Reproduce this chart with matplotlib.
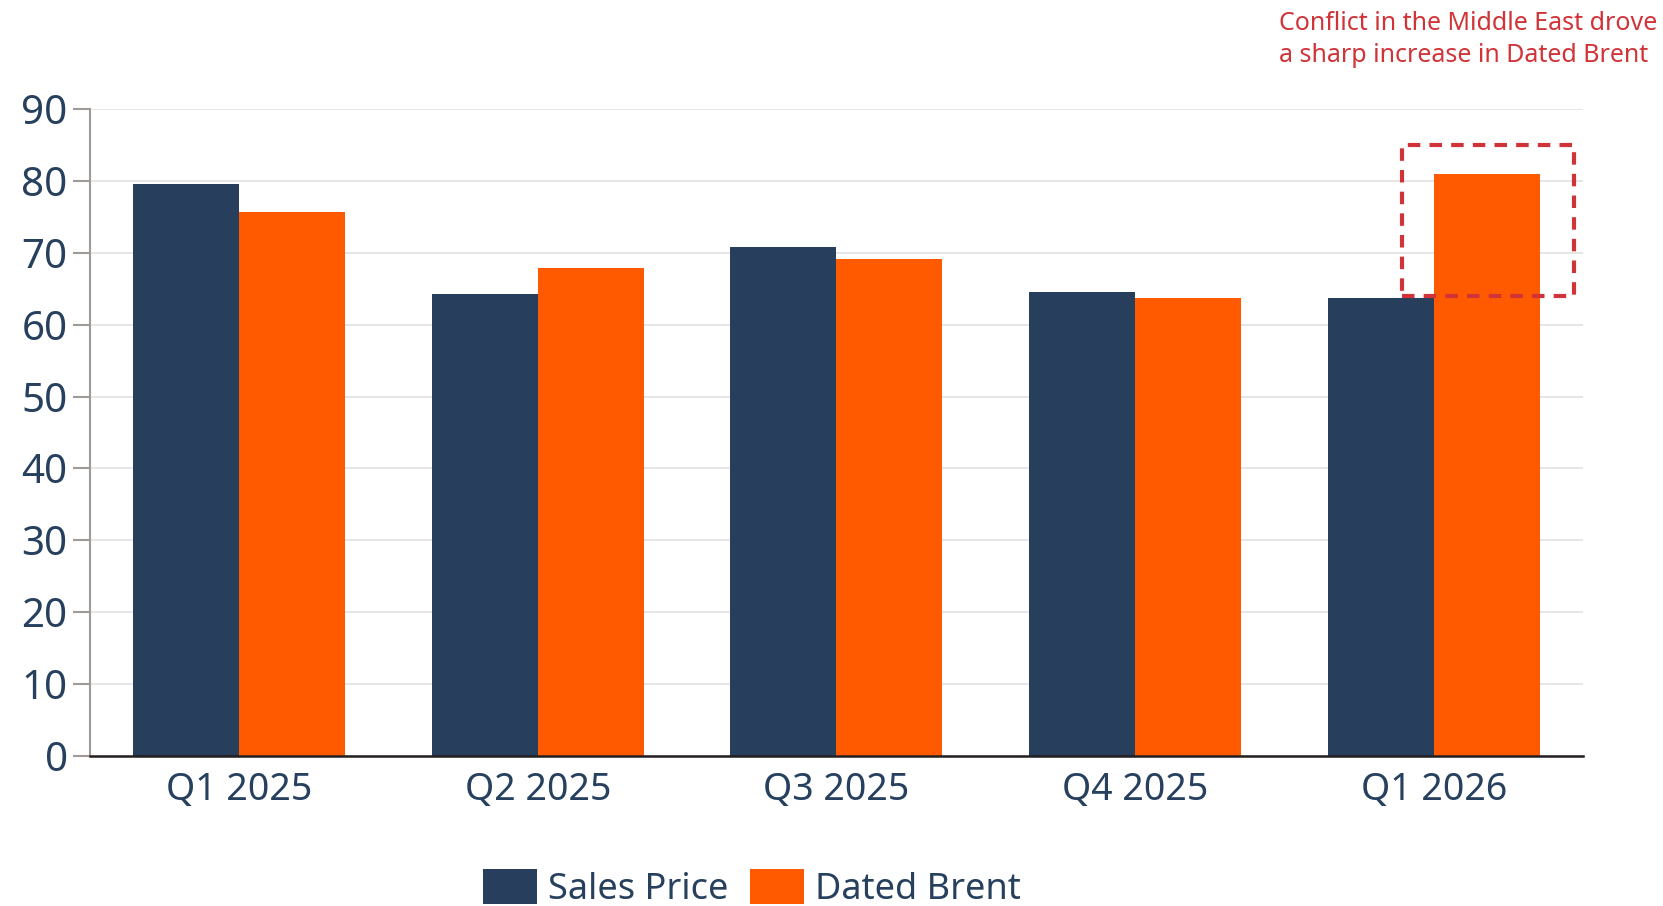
import matplotlib
matplotlib.use("Agg")
import matplotlib.pyplot as plt
import numpy as np
from matplotlib.patches import Rectangle

quarters = ["Q1 2025", "Q2 2025", "Q3 2025", "Q4 2025", "Q1 2026"]
sales_price = [79.5, 64.2, 70.8, 64.5, 63.7]
dated_brent = [75.7, 67.9, 69.2, 63.7, 81.0]
yticks = [0, 10, 20, 30, 40, 50, 60, 70, 80, 90]
note = "Conflict in the Middle East drove\na sharp increase in Dated Brent"

NAVY = "#273f5c"
ORANGE = "#ff5a00"
TEXT = "#26405e"
RED = "#d13438"

plt.rcParams["font.family"] = ["Noto Sans", "DejaVu Sans"]

fig = plt.figure(figsize=(16.63, 9.06), dpi=100)
ax = fig.add_axes([0.0541, 0.1656, 0.8978, 0.7141])

x = np.arange(len(quarters))
w = 0.355
ax.bar(x - w / 2, sales_price, w, color=NAVY, label="Sales Price", zorder=3)
ax.bar(x + w / 2, dated_brent, w, color=ORANGE, label="Dated Brent", zorder=3)

ax.set_xlim(-0.5, len(quarters) - 0.5)
ax.set_ylim(0, 90)
ax.set_yticks(yticks)
ax.set_xticks(x)
ax.set_xticklabels(quarters)
ax.tick_params(axis="y", length=12, width=1.5, color="#a09a96", labelsize=29,
               labelcolor=TEXT, pad=4)
ax.tick_params(axis="x", length=0, labelsize=27, labelcolor=TEXT, pad=11)
ax.yaxis.grid(True, color="#e4e4e4", linewidth=1.3, zorder=0)
for s in ["top", "right"]:
    ax.spines[s].set_visible(False)
ax.spines["left"].set_color("#a09a96")
ax.spines["left"].set_linewidth(1.5)
ax.spines["bottom"].set_color("#231f20")
ax.spines["bottom"].set_linewidth(1.8)
ax.spines["bottom"].set_zorder(4)

# highlight box around the latest quarter
box_x0 = x[-1] - 0.107
box = Rectangle((box_x0, 64.0), 0.576, 21.0, fill=False, edgecolor=RED,
                linewidth=3, linestyle=(0, (3, 2.2)), zorder=5, clip_on=False)
ax.add_patch(box)

fig.text(0.769, 0.988, note, ha="left", va="top", color=RED, fontsize=18,
         linespacing=1.38)

fig.legend(loc="lower center", bbox_to_anchor=(0.452, -0.038), ncol=2,
           frameon=False, fontsize=26, labelcolor=TEXT, handlelength=1.5,
           handleheight=1.1, handletextpad=0.3, columnspacing=0.6)

fig.savefig("out.png", dpi=100)
